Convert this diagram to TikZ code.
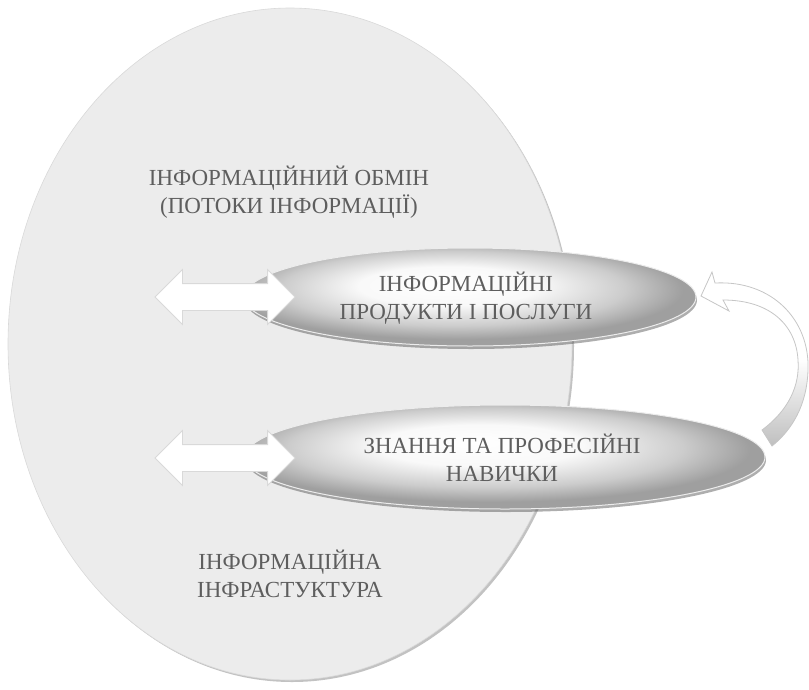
\documentclass[tikz,border=0pt]{standalone}
\usepackage{fontspec}
\setmainfont{Liberation Serif}
\usetikzlibrary{shapes.geometric,shapes.arrows,shadows}
\pgfdeclareradialshading{glossy}{\pgfpoint{-3bp}{7bp}}{color(0bp)=(white); color(10bp)=(white!95!gray); color(19bp)=(gray!40); color(25bp)=(gray!75); color(50bp)=(gray!75)}
\definecolor{txt}{HTML}{5E5E5E}
\begin{document}
\begin{tikzpicture}[x=1pt,y=-1pt,
  bigell/.style={ellipse, inner sep=0pt, fill=gray!15, draw=gray!30, line width=0.6pt,
     drop shadow={shadow xshift=2pt, shadow yshift=-2pt, fill=gray!80, opacity=0.6}},
  glossell/.style={ellipse, inner sep=0pt, shading=glossy, draw=white!85!gray, line width=1pt,
     drop shadow={shadow xshift=1pt, shadow yshift=-3pt, fill=gray!60!black, opacity=0.45},
     font=\fontsize{23}{29}\selectfont, text=txt, align=center},
  lbl/.style={font=\fontsize{23}{28}\selectfont, text=txt, align=center},
  darrow/.style={double arrow, fill=white, draw=gray!30, line width=0.8pt,
     minimum height=140pt, inner xsep=0pt, inner ysep=13pt, double arrow head extend=14pt}
]
\useasboundingbox (0,0) rectangle (809,689);
\node[bigell, minimum width=564pt, minimum height=672pt] (big) at (290,344) {};
\node[lbl] (t1) at (289,192) {ІНФОРМАЦІЙНИЙ ОБМІН\\(ПОТОКИ ІНФОРМАЦІЇ)};
\node[lbl] (t2) at (290,574) {ІНФОРМАЦІЙНА\\ІНФРАСТУКТУРА};

\node[glossell, minimum width=452pt, minimum height=98pt] (e1) at (470,297) {};
\node[lbl] (e1t) at (466,298) {ІНФОРМАЦІЙНІ\\ПРОДУКТИ І ПОСЛУГИ};
\node[glossell, minimum width=520pt, minimum height=104pt] (e2) at (505,457) {};
\node[lbl] (e2t) at (502,458) {ЗНАННЯ ТА ПРОФЕСІЙНІ\\НАВИЧКИ};

\node[darrow] (a1) at (225,297) {};
\node[darrow] (a2) at (225,458) {};

% curved arrow from e2 to e1
\coordinate (tip) at (701,296);
\path[top color=white, bottom color=gray!50, middle color=white, draw=gray!45, line width=0.8pt]
  (tip) -- (712,272) -- (715,283)
  .. controls (772,280) and (810,320) .. (808,370)
  .. controls (807,405) and (792,430) .. (772,446)
  -- (762,430)
  .. controls (789,410) and (800,385) .. (798,360)
  .. controls (796,325) and (770,300) .. (723,300)
  -- (729,311) -- cycle;
\end{tikzpicture}
\end{document}
